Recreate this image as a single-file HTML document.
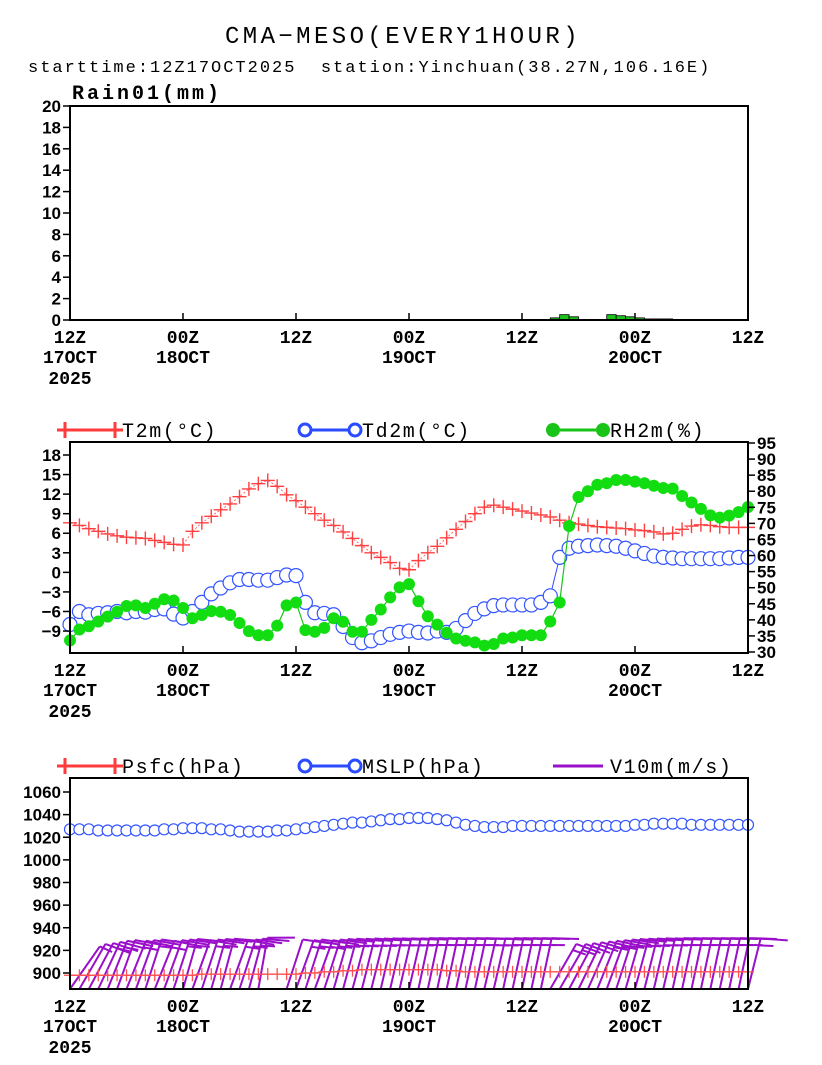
<!DOCTYPE html>
<html><head><meta charset="utf-8"><style>
html,body{margin:0;padding:0;background:#fff;}
svg{display:block;}
.mono{font-family:"Liberation Mono",monospace;}
.tk{font-family:"Liberation Mono",monospace;font-weight:bold;font-size:18px;}
.yl{font-family:"Liberation Sans",sans-serif;font-weight:bold;font-size:17px;}
</style></head><body>
<svg id="chart" width="822" height="1065" viewBox="0 0 822 1065" xmlns="http://www.w3.org/2000/svg">
<text x="403" y="43" text-anchor="middle" class="mono" font-size="24" letter-spacing="3.4">CMA−MESO(EVERY1HOUR)</text>
<text x="28" y="72" class="mono" font-size="17" letter-spacing="2" xml:space="preserve">starttime:12Z17OCT2025  station:Yinchuan(38.27N,106.16E)</text>
<text x="72" y="99" class="mono" font-size="20" font-weight="bold" letter-spacing="3">Rain01(mm)</text>
<g id="g1"></g>
<g id="g2"></g>
<g id="g3"></g>
</svg>
<script>
const NS="http://www.w3.org/2000/svg";
// ---- data (hourly from 12Z17OCT2025, 73 points) ----
const timeLabels=["12Z","00Z","12Z","00Z","12Z","00Z","12Z"];
const dateLabels=["17OCT","18OCT","","19OCT","","20OCT",""];
const rainHours=[50,51,52,53,54,55,56,57,58,59,60,61,62,63,64];
const rainVals=[0.05,0.2,0.5,0.3,0.05,0.05,0.05,0.5,0.4,0.3,0.2,0.1,0.1,0.1,0.05];
const t2m=[7.6,7.2,6.7,6.3,5.9,5.6,5.4,5.3,5.2,4.9,4.6,4.3,4.2,6.3,7.6,8.6,9.6,10.5,11.6,12.8,13.6,14.1,13.2,11.9,11.0,10.0,9.0,8.0,7.2,6.2,5.2,4.1,3.0,2.3,1.5,0.6,0.4,1.8,3.0,4.0,5.3,6.6,7.8,9.0,10.0,10.3,10.0,9.7,9.4,9.1,8.8,8.5,8.0,7.6,7.4,7.2,7.0,6.9,6.8,6.7,6.5,6.4,6.2,5.9,6.0,6.6,7.1,7.3,7.2,7.0,6.9,6.9,6.9];
const td2m=[-8.0,-6.0,-6.5,-6.3,-6.2,-6.0,-6.2,-6.0,-6.1,-5.7,-5.6,-6.4,-7.0,-6.0,-4.6,-3.3,-2.4,-1.6,-1.1,-1.1,-1.2,-1.2,-0.8,-0.4,-0.5,-4.6,-6.2,-6.3,-6.5,-8.3,-10.0,-10.8,-10.5,-10.0,-9.5,-9.2,-9.0,-9.2,-9.3,-9.0,-9.2,-8.6,-7.4,-6.3,-5.6,-5.1,-5.0,-5.0,-5.0,-5.0,-4.6,-3.6,2.3,3.7,4.0,4.1,4.2,4.1,4.0,3.7,3.3,2.9,2.5,2.3,2.2,2.1,2.1,2.1,2.1,2.1,2.2,2.3,2.3];
const rh2m=[33.6,37.0,38.0,39.5,41,42.5,44.3,44.5,43.7,45.0,46.4,46.0,43.7,40.5,41.5,42.7,42.5,41.5,39.0,36.5,35.2,35.2,38.2,44.5,45.4,36.8,36.3,37.5,40.5,39.4,36.3,36.3,40.0,43.2,47.0,50.1,51.1,45.8,41.1,38.5,36.0,34.2,33.5,33.0,32.0,32.5,34.2,34.5,35.2,35.2,35.2,39.5,45.4,69.2,78.2,80.0,82.0,82.5,83.5,83.5,83.0,82.5,81.7,81.0,80.8,78.5,76.5,74.5,72.5,71.8,72.4,73.5,75.1];
const psfc=[898,898,898,898,898,898,898,898,898,898,898,898,898,898,899,899,899,899,899,899,899,899,899,899,899,900,900,901,901,902,902,903,903,903,903,903,903,903,903,903,902,902,901,901,901,901,901,901,901,901,901,901,901,901,901,901,901,901,901,901,901,901,901,901,901,901,901,901,901,901,901,901,901];
const mslp=[1027,1027,1027,1026,1026,1026,1026,1026,1026,1026,1027,1027,1028,1028,1028,1027,1027,1026,1025,1025,1025,1025,1026,1026,1027,1028,1029,1030,1031,1032,1033,1033,1034,1035,1036,1036,1037,1037,1037,1036,1035,1033,1031,1030,1029,1029,1029,1030,1030,1030,1030,1030,1030,1030,1030,1030,1030,1030,1030,1030,1031,1031,1032,1032,1032,1032,1031,1031,1031,1031,1031,1031,1031];
const windSpd=[3,4,5,6,6,5,6,5,6,6,5,6,6,5,6,7,5,6,6,6,4,0,0,5,6,6,6,6,7,7,6,6,6,6,7,6,6,6,6,6,6,6,6,6,6,6,6,6,6,6,6,6,6,5,5,5,6,6,6,6,6,6,6,6,6,6,6,6,6,6,6,6,6];
const windDir=[35,30,28,25,22,20,22,20,18,22,20,18,16,20,18,16,15,20,18,15,10,0,0,18,20,18,20,18,16,15,15,14,14,13,13,13,13,12,12,12,12,12,12,12,13,13,12,12,12,12,12,30,30,28,26,24,22,20,18,16,15,14,13,13,12,12,12,12,12,12,12,12,14];

// ---- helpers ----
const X0=70,X1=748,NH=72;
const xs=h=>X0+(X1-X0)*h/NH;
function el(par,tag,attrs,txt){const e=document.createElementNS(NS,tag);for(const k in attrs)e.setAttribute(k,attrs[k]);if(txt!==undefined)e.textContent=txt;par.appendChild(e);return e;}
function frame(g,top,bot,labY){
  const f=el(g,'rect',{x:X0,y:top,width:X1-X0,height:bot-top,fill:'none',stroke:'#000','stroke-width':2});
  
  
  for(let i=0;i<7;i++){
    const x=xs(i*12);
    const t=el(g,'line',{x1:x,y1:bot,x2:x,y2:bot-7,stroke:'#000','stroke-width':1.5});
    
    
    const l=el(g,'text',{x:x,y:labY,'text-anchor':'middle',class:'tk'},timeLabels[i]);
    
    
    if(dateLabels[i]){const d=el(g,'text',{x:x,y:labY+20,'text-anchor':'middle',class:'tk'},dateLabels[i]);
      
      }
  }
  const yr=el(g,'text',{x:X0,y:labY+41,'text-anchor':'middle',class:'tk'},'2025');
  
  
}
function yaxis(g,vals,ys,side){
  vals.forEach(v=>{const y=ys(v);
    const x=side==='L'?X0:X1;const d=side==='L'?-7:7;
    const t=el(g,'line',{x1:x,y1:y,x2:x+d,y2:y,stroke:'#000','stroke-width':1.5});
    
    
    const l=el(g,'text',{x:side==='L'?X0-9:X1+9,y:y+6,'text-anchor':side==='L'?'end':'start',class:'yl'},side==='L'?String(v).replace('-','−'):v);
    
    });
}
function plus(g,x,y,s,c,w){el(g,'path',{d:`M${x-s} ${y}H${x+s}M${x} ${y-s}V${y+s}`,stroke:c,'stroke-width':w||1.3,fill:'none'});}
function legend(g,lg,y){
  lg.forEach(L=>{const x=L[1];
    const gg=el(g,'g',{});
    
    
    el(gg,'line',{x1:x,y1:y,x2:x+50,y2:y,stroke:L[2],'stroke-width':3});
    if(L[3]==='plus'){plus(gg,x,y,8,L[2],3);plus(gg,x+50,y,8,L[2],3);}
    if(L[3]==='circ'){[x,x+50].forEach(cx=>el(gg,'circle',{cx:cx,cy:y,r:6,fill:'#fff',stroke:L[2],'stroke-width':3}));}
    if(L[3]==='dot'){[x,x+50].forEach(cx=>el(gg,'circle',{cx:cx,cy:y,r:7,fill:L[2]}));}
    el(gg,'text',{x:x+57,y:y+7,class:'mono','font-size':20,'letter-spacing':1.6},L[0]);
  });
}

// ---- panel 1: rain ----
(function(){
  const g=document.getElementById('g1');const top=106,bot=320;
  const ys=v=>bot-(bot-top)*v/20;
  rainHours.forEach((h,i)=>{
    const b=el(g,'rect',{x:xs(h),y:ys(rainVals[i]),width:xs(1)-X0,height:bot-ys(rainVals[i]),fill:'#19c419',stroke:'#000','stroke-width':0.8});
    
    
  });
  frame(g,top,bot,343);
  yaxis(g,[0,2,4,6,8,10,12,14,16,18,20],ys,'L');
})();

// ---- panel 2: temperature / dewpoint / RH ----
(function(){
  const g=document.getElementById('g2');const top=442,bot=653;
  const yL=v=>455+(18-v)*6.52;
  const yR=v=>652-(v-30)*(652-443)/65;
  legend(g,[["T2m(°C)",65,'#ff3b3b','plus'],["Td2m(°C)",305,'#2a4bff','circ'],["RH2m(%)",553,'#19c419','dot']],430);
  const tl=el(g,'polyline',{points:t2m.map((v,i)=>xs(i)+','+yL(v)).join(' '),fill:'none',stroke:'#ff6b6b','stroke-width':1,'stroke-dasharray':'2,2'});
  
  
  t2m.forEach((v,i)=>plus(g,xs(i),yL(v),7,'#ff4040',1.4));
  const dl=el(g,'polyline',{points:td2m.map((v,i)=>xs(i)+','+yL(v)).join(' '),fill:'none',stroke:'#2a4bff','stroke-width':1});
  
  
  td2m.forEach((v,i)=>{const c=el(g,'circle',{cx:xs(i),cy:yL(v),r:7,fill:'#fff',stroke:'#3355ff','stroke-width':1.2});
    
    });
  const rl=el(g,'polyline',{points:rh2m.map((v,i)=>xs(i)+','+yR(v)).join(' '),fill:'none',stroke:'#19c419','stroke-width':1.2});
  
  
  rh2m.forEach((v,i)=>{const c=el(g,'circle',{cx:xs(i),cy:yR(v),r:6,fill:'#11dd11'});
    
    });
  frame(g,top,bot,676);
  yaxis(g,[-9,-6,-3,0,3,6,9,12,15,18],yL,'L');
  yaxis(g,[30,35,40,45,50,55,60,65,70,75,80,85,90,95],yR,'R');
})();

// ---- panel 3: pressure & wind ----
(function(){
  const g=document.getElementById('g3');const top=778,bot=989;
  const yP=v=>973-(v-900)*(973-792)/160;
  legend(g,[["Psfc(hPa)",65,'#ff3b3b','plus'],["MSLP(hPa)",305,'#2a4bff','circ'],["V10m(m/s)",553,'#9a0fc9','none']],766);
  windSpd.forEach((s,i)=>{
    if(s<=0)return;
    const a=windDir[i]*Math.PI/180,L=52;
    const bx=xs(i),by=bot;
    const tx=bx+L*Math.sin(a),ty=by-L*Math.cos(a);
    const wb=el(g,'g',{});
    
    
    el(wb,'line',{x1:bx,y1:by,x2:tx,y2:ty,stroke:'#9a0fc9','stroke-width':2});
    const px=Math.cos(a),py=Math.sin(a);
    let n=Math.floor(s/4),half=(s%4)>=2,k=0;
    for(let j=0;j<n;j++,k++){const ox=tx-k*7*Math.sin(a),oy=ty+k*7*Math.cos(a);
      el(wb,'line',{x1:ox,y1:oy,x2:ox+28*px,y2:oy+28*py-5,stroke:'#9a0fc9','stroke-width':2});}
    if(half){const ox=tx-k*7*Math.sin(a),oy=ty+k*7*Math.cos(a);
      el(wb,'line',{x1:ox,y1:oy,x2:ox+15*px,y2:oy+15*py-3,stroke:'#9a0fc9','stroke-width':2});}
  });
  const pl=el(g,'polyline',{points:psfc.map((v,i)=>xs(i)+','+yP(v)).join(' '),fill:'none',stroke:'#ff5050','stroke-width':1.2});
  
  
  psfc.forEach((v,i)=>plus(g,xs(i),yP(v),6,'#ff5050'));
  mslp.forEach((v,i)=>{const c=el(g,'circle',{cx:xs(i),cy:yP(v),r:5.5,fill:'#fff',stroke:'#3355ff','stroke-width':1.2});
    
    });
  frame(g,top,bot,1012);
  yaxis(g,[900,920,940,960,980,1000,1020,1040,1060],yP,'L');
})();
</script>
</body></html>
